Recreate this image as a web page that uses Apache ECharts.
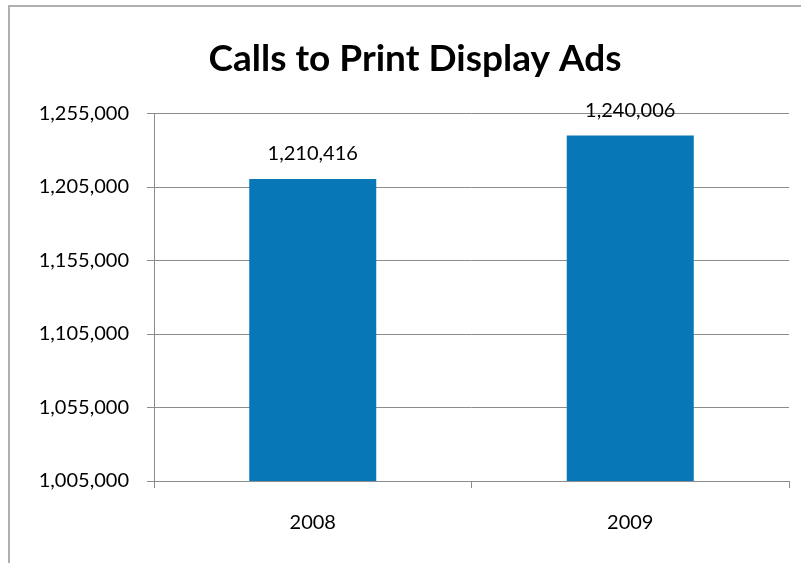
<!DOCTYPE html>
<html>
<head>
<meta charset="utf-8">
<style>
  html, body { margin: 0; padding: 0; background: #fff; }
  #frame { position: absolute; left: 8px; top: 5px; width: 800px; height: 570px; border: 2px solid #b0b0b0; box-sizing: border-box; }
  #chart { position: absolute; left: 0; top: 0; width: 801px; height: 563px; }
</style>
<script src="https://cdn.jsdelivr.net/npm/echarts@6/dist/echarts.min.js"></script>
</head>
<body>
<div id="frame"></div>
<div id="chart"></div>
<script>
// Yearly call counts
const years = ['2008', '2009'];
const calls = [1210416, 1240006];
const yTicks = [1005000, 1055000, 1105000, 1155000, 1205000, 1255000];

const fmt = v => Number(v).toLocaleString('en-US');
const font = 'Lato, "Open Sans", sans-serif';

const chart = echarts.init(document.getElementById('chart'), null, { renderer: 'canvas' });
chart.setOption({
  animation: false,
  backgroundColor: 'transparent',
  title: {
    text: 'Calls to Print Display Ads',
    left: 410, top: 36, textAlign: 'center',
    textStyle: { fontFamily: font, fontWeight: 'bold', fontSize: 37, color: '#000' }
  },
  grid: { left: 154, right: 12, top: 113.5, bottom: 82, containLabel: false },
  xAxis: {
    type: 'category',
    data: years,
    axisLine: { lineStyle: { color: '#8c8c8c', width: 1 } },
    axisTick: { show: true, alignWithLabel: false, length: 7, lineStyle: { color: '#8c8c8c' } },
    axisLabel: { fontFamily: font, fontSize: 20, color: '#000', margin: 32 }
  },
  yAxis: {
    type: 'value',
    min: yTicks[0],
    max: yTicks[yTicks.length - 1],
    axisLine: { show: true, lineStyle: { color: '#8c8c8c', width: 1 } },
    axisTick: { show: true, length: 7, customValues: yTicks, lineStyle: { color: '#8c8c8c' } },
    axisLabel: { customValues: yTicks, fontFamily: font, fontSize: 20, color: '#000', margin: 25, formatter: fmt },
    splitLine: { show: true, lineStyle: { color: '#8c8c8c', width: 1 } }
  },
  series: [{
    type: 'bar',
    data: calls,
    barCategoryGap: '60%',
    itemStyle: { color: '#0777b7' },
    label: {
      show: true, position: 'top', distance: 15,
      fontFamily: font, fontSize: 20, color: '#000',
      formatter: p => fmt(p.value)
    }
  }]
});
</script>
</body>
</html>
